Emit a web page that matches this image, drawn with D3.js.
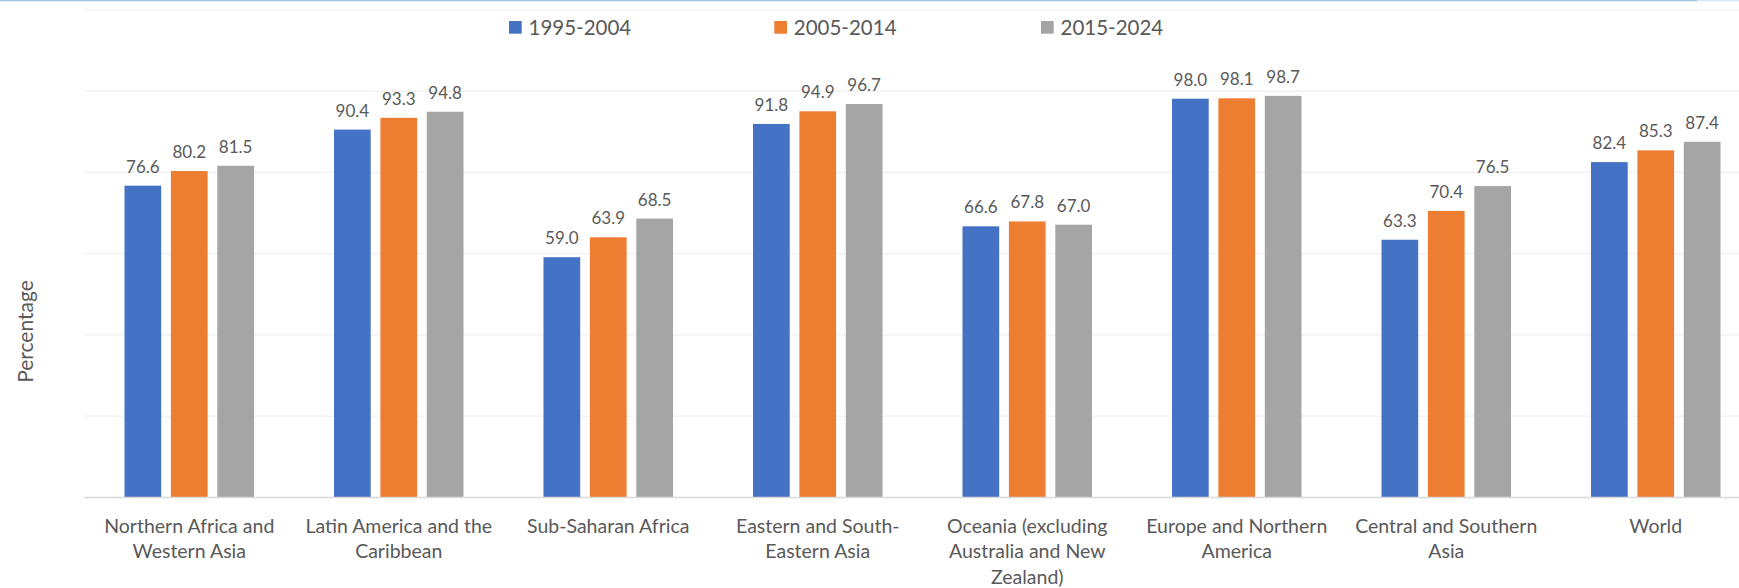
<!DOCTYPE html>
<html>
<head>
<meta charset="utf-8">
<script src="https://cdn.jsdelivr.net/npm/d3@7"></script>
<style>
  html, body { margin: 0; padding: 0; background: #fff; }
  svg { display: block; }
  text { font-family: Lato, "Open Sans", sans-serif; fill: #595959; }
</style>
</head>
<body>
<svg id="chart" width="1739" height="588"></svg>
<script>
const categories = [
  "Northern Africa and Western Asia",
  "Latin America and the Caribbean",
  "Sub-Saharan Africa",
  "Eastern and South-Eastern Asia",
  "Oceania (excluding Australia and New Zealand)",
  "Europe and Northern America",
  "Central and Southern Asia",
  "World"
];
const categoryLines = [
  ["Northern Africa and", "Western Asia"],
  ["Latin America and the", "Caribbean"],
  ["Sub-Saharan Africa"],
  ["Eastern and South-", "Eastern Asia"],
  ["Oceania (excluding", "Australia and New", "Zealand)"],
  ["Europe and Northern", "America"],
  ["Central and Southern", "Asia"],
  ["World"]
];
const seriesNames = ["1995-2004", "2005-2014", "2015-2024"];
const values1995 = [76.6, 90.4, 59.0, 91.8, 66.6, 98.0, 63.3, 82.4];
const values2005 = [80.2, 93.3, 63.9, 94.9, 67.8, 98.1, 70.4, 85.3];
const values2015 = [81.5, 94.8, 68.5, 96.7, 67.0, 98.7, 76.5, 87.4];
const seriesColors = ["#4472C4", "#ED7D31", "#A5A5A5"];
const yTicks = [0, 20, 40, 60, 80, 100, 120];
const yLabel = "Percentage";

const seriesValues = [values1995, values2005, values2015];

const svg = d3.select("#chart");
const W = 1739, H = 588;

// top decorative border line
svg.append("line").attr("x1", 0).attr("x2", 1697).attr("y1", 0.5).attr("y2", 0.5)
  .attr("stroke", "#9dc3e6").attr("stroke-width", 1.5);
svg.append("line").attr("x1", 1697).attr("x2", W).attr("y1", 0.5).attr("y2", 0.5)
  .attr("stroke", "#d3e7f6").attr("stroke-width", 1.5);

const plotLeft = 84.5, plotRight = 1760.5;
const y = d3.scaleLinear().domain([0, 120]).range([497, 9.3]);
const x0 = d3.scaleBand().domain(categories).range([plotLeft, plotRight]).padding(0);
const groupInner = 129.5;
const x1 = d3.scaleBand().domain(seriesNames)
  .range([(x0.bandwidth() - groupInner) / 2, (x0.bandwidth() + groupInner) / 2])
  .paddingInner(0.209).paddingOuter(0);

// gridlines
const grid = svg.append("g").attr("transform", `translate(${plotLeft},0)`)
  .call(d3.axisLeft(y).tickValues(yTicks.slice(1)).tickFormat("").tickSize(-(W - plotLeft)));
grid.select(".domain").remove();
grid.selectAll(".tick line").attr("stroke", "#efefef").attr("stroke-width", 1.3);

// bars
const groups = svg.append("g").selectAll("g").data(categories).join("g")
  .attr("transform", d => `translate(${x0(d)},0)`);
groups.each(function(cat, ci) {
  const g = d3.select(this);
  seriesNames.forEach((s, si) => {
    const v = seriesValues[si][ci];
    g.append("rect")
      .attr("x", x1(s)).attr("width", x1.bandwidth())
      .attr("y", y(v)).attr("height", y(0) - y(v))
      .attr("fill", seriesColors[si]);
    g.append("text")
      .attr("x", x1(s) + x1.bandwidth() / 2)
      .attr("y", y(v) - 13)
      .attr("text-anchor", "middle")
      .attr("font-size", "17px")
      .text(v.toFixed(1));
  });
});

// x axis
const xAxis = svg.append("g").attr("transform", `translate(0,${y(0)})`)
  .call(d3.axisBottom(x0).tickSize(0).tickFormat(""));
xAxis.select(".domain").attr("stroke", "#d9d9d9").attr("stroke-width", 1.5)
  .attr("d", `M${plotLeft},0.5H${W}`);
xAxis.selectAll(".tick").each(function(cat, i) {
  const t = d3.select(this).append("text")
    .attr("text-anchor", "middle")
    .attr("font-size", "19.5px")
    .attr("fill", "#595959");
  categoryLines[i].forEach((line, li) => {
    t.append("tspan").attr("x", 0).attr("y", 35.5 + li * 25.5).text(line);
  });
});

// y axis title
svg.append("text")
  .attr("transform", `translate(33,331.5) rotate(-90)`)
  .attr("text-anchor", "middle")
  .attr("font-size", "21px")
  .text(yLabel);

// legend
const legendX = [509, 774.3, 1041];
const legend = svg.append("g");
seriesNames.forEach((s, i) => {
  legend.append("rect").attr("x", legendX[i]).attr("y", 21).attr("width", 12.7).attr("height", 12.7)
    .attr("fill", seriesColors[i]);
  legend.append("text").attr("x", legendX[i] + 19.5).attr("y", 35)
    .attr("font-size", "20.5px").text(s);
});
</script>
</body>
</html>
